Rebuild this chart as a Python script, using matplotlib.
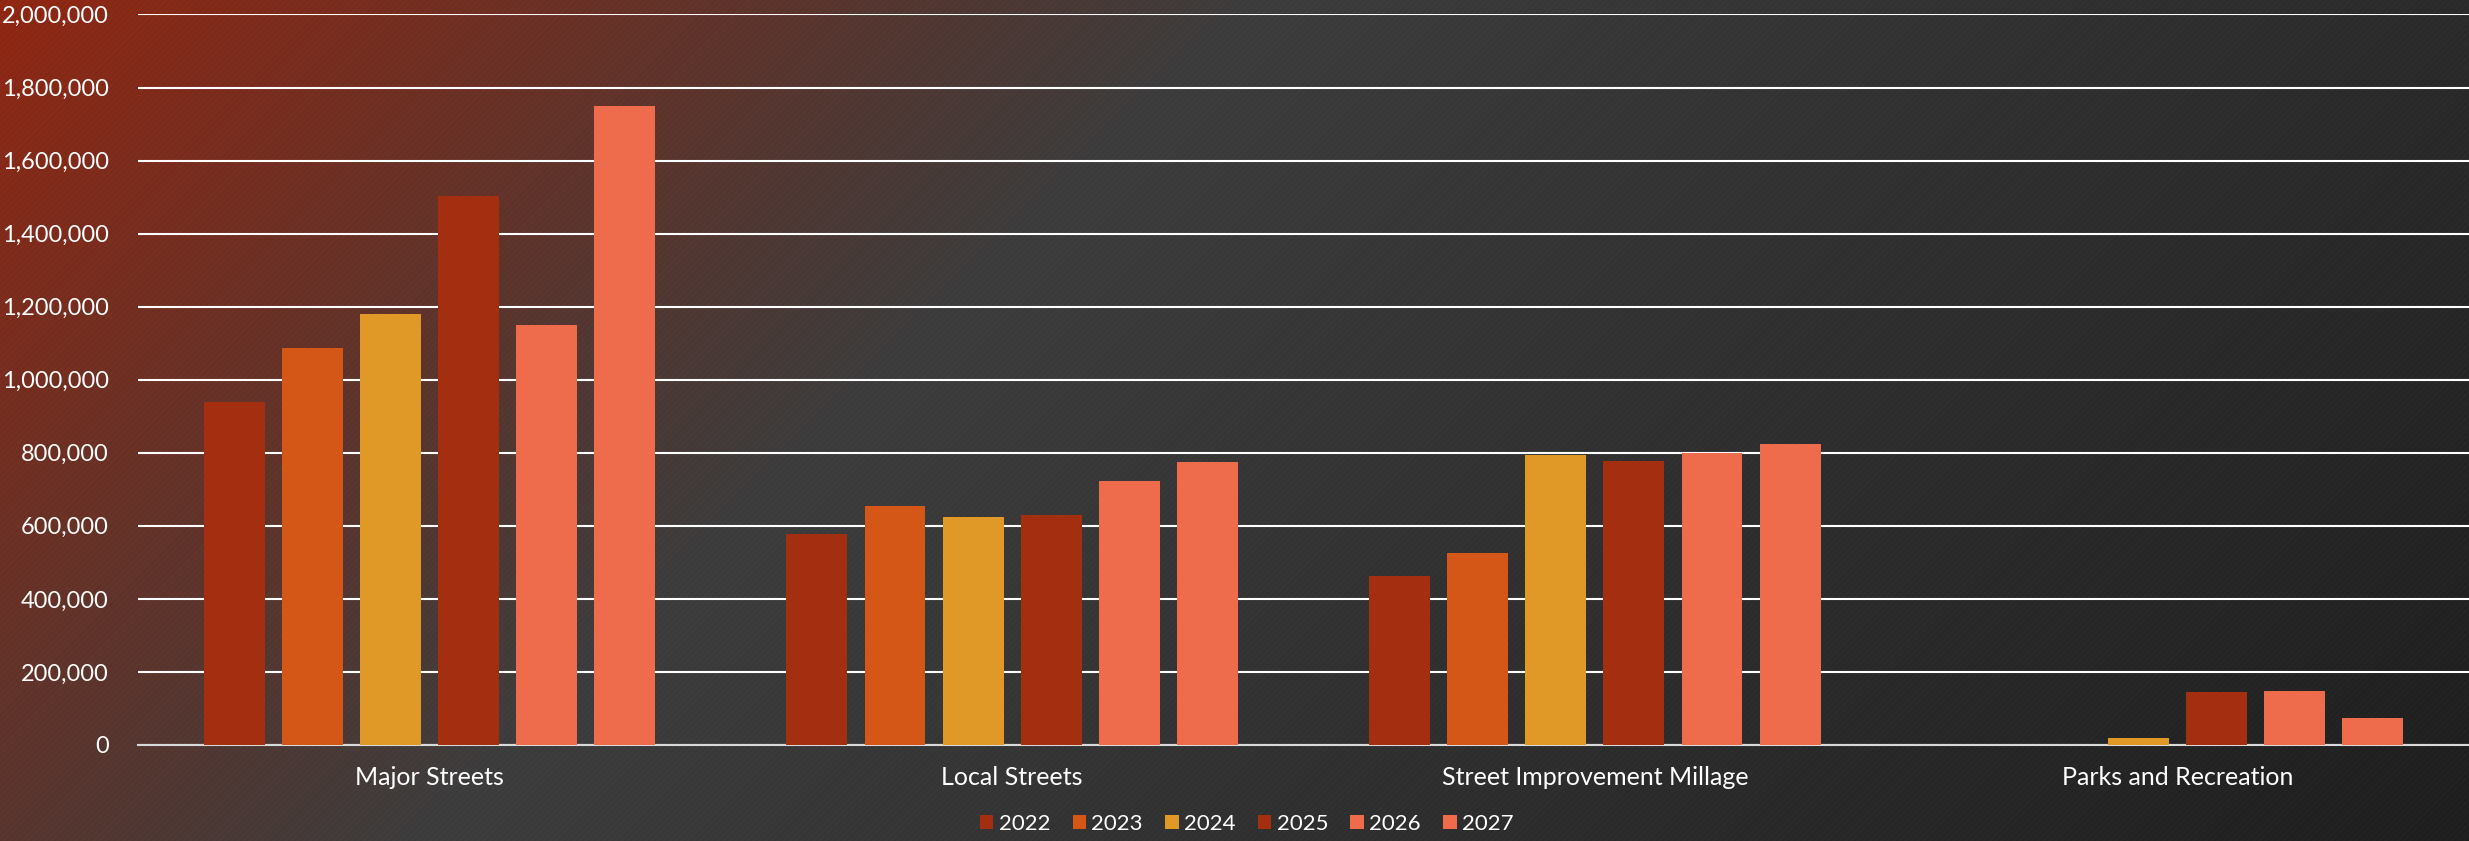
import numpy as np
import matplotlib.pyplot as plt
from matplotlib.ticker import FuncFormatter

# categories and yearly values
categories = ["Major Streets", "Local Streets", "Street Improvement Millage", "Parks and Recreation"]
years = ["2022", "2023", "2024", "2025", "2026", "2027"]
v2022 = [940000, 578000, 463000, 0]
v2023 = [1086000, 655000, 526000, 0]
v2024 = [1181000, 625000, 793000, 18000]
v2025 = [1504000, 629000, 778000, 144000]
v2026 = [1151000, 724000, 800000, 149000]
v2027 = [1750000, 776000, 825000, 74000]
series = [v2022, v2023, v2024, v2025, v2026, v2027]
colors = ["#A42F10", "#D55717", "#E09827", "#A42F10", "#EE6C4B", "#EE6C4B"]

plt.rcParams['font.family'] = ['Lato', 'DejaVu Sans']

fig = plt.figure(figsize=(24.69, 8.41), dpi=100)

# background: diagonal gradient (red -> grey -> dark) with faint stripes
bg = fig.add_axes([0, 0, 1, 1], zorder=-10)
W, H = 2469, 841
xx, yy = np.meshgrid(np.arange(W), np.arange(H))
t = (xx + yy) / (W + H)
red = np.array([145, 40, 20]) / 255
grey = np.array([62, 62, 62]) / 255
dark = np.array([32, 32, 32]) / 255
stripe = np.where(((xx + yy) % 6) < 2, -0.012, 0.0)
img = np.zeros((H, W, 3))
for c in range(3):
    img[..., c] = np.interp(t, [0, 0.38, 1.0], [red[c], grey[c], dark[c]]) + stripe
img = np.clip(img, 0, 1)
bg.imshow(img, aspect='auto', extent=[0, 1, 0, 1], origin='upper', interpolation='nearest')
bg.axis('off')

ax = fig.add_axes([0.0559, 0.1142, 0.9441, 0.8686])
ax.set_facecolor('none')

x = np.arange(len(categories))
width = 0.1046
step = 0.134
for i, (vals, col) in enumerate(zip(series, colors)):
    ax.bar(x + (i - 2.5) * step, vals, width, color=col, label=years[i], zorder=3)

ax.set_xlim(-0.5, len(categories) - 0.5)
ax.set_ylim(0, 2000000)
ax.set_yticks(np.arange(0, 2000001, 200000))
ax.yaxis.set_major_formatter(FuncFormatter(lambda v, p: f"{int(v):,}"))
ax.set_xticks(x)
ax.set_xticklabels(categories, fontsize=18)
ax.grid(axis='y', color='white', linewidth=1.5, zorder=0)
ax.tick_params(axis='both', length=0, colors='white')
ax.tick_params(axis='y', labelsize=17, pad=21)
ax.tick_params(axis='x', pad=15)
for s in ['top', 'right', 'left']:
    ax.spines[s].set_visible(False)
ax.spines['bottom'].set_color('#d9d9d9')
ax.spines['bottom'].set_linewidth(1.5)

leg = fig.legend(loc='center', bbox_to_anchor=(0.505, 0.02), ncol=6, frameon=False,
                 fontsize=16, handlelength=0.6, handleheight=0.6, handletextpad=0.25,
                 columnspacing=1.0)
for txt in leg.get_texts():
    txt.set_color('white')

fig.savefig('out.png', dpi=100)
